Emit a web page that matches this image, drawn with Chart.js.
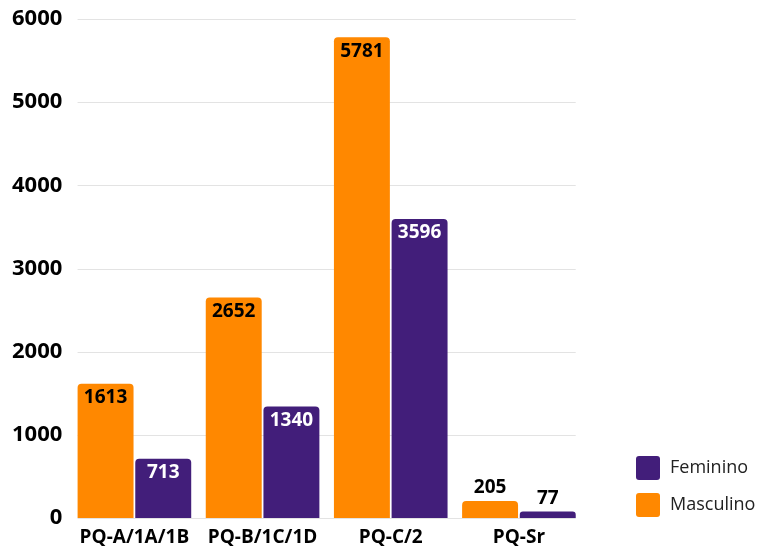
<!DOCTYPE html>
<html>
<head>
<meta charset="utf-8">
<script src="https://cdn.jsdelivr.net/npm/chart.js@4/dist/chart.umd.min.js"></script>
<style>
  html, body { margin: 0; padding: 0; background: #fff; }
  #wrap { width: 761px; height: 546px; }
</style>
</head>
<body>
<div id="wrap"><canvas id="my-chart"></canvas></div>
<script>
'use strict';

// >>> chart data <<<
const categories = ['PQ-A/1A/1B', 'PQ-B/1C/1D', 'PQ-C/2', 'PQ-Sr'];
const masculino = [1613, 2652, 5781, 205];
const feminino = [713, 1340, 3596, 77];
const yTicks = [0, 1000, 2000, 3000, 4000, 5000, 6000];

const ORANGE = '#FF8800';
const PURPLE = '#421E7A';
const FONT = "'Open Sans', sans-serif";

// grid lines only under the bars (from first bar to last bar)
const gridPlugin = {
  id: 'gridUnderBars',
  beforeDatasetsDraw(chart) {
    const ctx = chart.ctx;
    const yScale = chart.scales.y;
    const first = chart.getDatasetMeta(0).data[0];
    const last = chart.getDatasetMeta(1).data[categories.length - 1];
    const left = first.x - first.width / 2;
    const right = last.x + last.width / 2;
    ctx.save();
    ctx.strokeStyle = '#e3e3e3';
    ctx.lineWidth = 1;
    yTicks.forEach(function (t) {
      const y = Math.round(yScale.getPixelForValue(t)) + 0.5;
      ctx.beginPath();
      ctx.moveTo(left, y);
      ctx.lineTo(right, y);
      ctx.stroke();
    });
    ctx.restore();
  }
};

// value labels: inside the top of the bar, above it when the bar is short
const labelPlugin = {
  id: 'barLabels',
  afterDatasetsDraw(chart) {
    const ctx = chart.ctx;
    ctx.save();
    ctx.font = 'bold 19px ' + FONT;
    ctx.textAlign = 'center';
    ctx.textBaseline = 'middle';
    chart.data.datasets.forEach(function (ds, di) {
      const meta = chart.getDatasetMeta(di);
      meta.data.forEach(function (bar, i) {
        const h = bar.base - bar.y;
        let y;
        if (h > 40) {
          y = bar.y + 14;
          ctx.fillStyle = di === 0 ? '#000' : '#fff';
        } else {
          y = bar.y - 13;
          ctx.fillStyle = '#000';
        }
        ctx.fillText(String(ds.data[i]), bar.x, y);
      });
    });
    ctx.restore();
  }
};

// legend at the bottom right: Feminino first, then Masculino
const legendPlugin = {
  id: 'sideLegend',
  afterDraw(chart) {
    const ctx = chart.ctx;
    const items = chart.data.datasets.slice().reverse();
    const x = 636;
    let y = 456;
    ctx.save();
    ctx.font = '18px ' + FONT;
    ctx.textAlign = 'left';
    ctx.textBaseline = 'middle';
    items.forEach(function (ds) {
      ctx.fillStyle = ds.backgroundColor;
      ctx.beginPath();
      ctx.roundRect(x, y, 24, 24, 3);
      ctx.fill();
      ctx.fillStyle = '#222';
      ctx.fillText(ds.label, x + 34, y + 12);
      y += 37;
    });
    ctx.restore();
  }
};

let canvasElement = document.getElementById('my-chart').getContext('2d');

let myChart = new Chart(canvasElement, {
  type: 'bar',
  data: {
    labels: categories,
    datasets: [{
      label: 'Masculino',
      data: masculino,
      backgroundColor: ORANGE,
      borderRadius: { topLeft: 4, topRight: 4 },
      borderSkipped: 'start',
      categoryPercentage: 0.9,
      barPercentage: 0.97
    },
    {
      label: 'Feminino',
      data: feminino,
      backgroundColor: PURPLE,
      borderRadius: { topLeft: 4, topRight: 4 },
      borderSkipped: 'start',
      categoryPercentage: 0.9,
      barPercentage: 0.97
    }]
  },
  options: {
    responsive: true,
    maintainAspectRatio: false,
    animation: false,
    layout: {
      padding: { top: 2, right: 178, bottom: -11, left: 4 }
    },
    scales: {
      x: {
        grid: { display: false, drawTicks: false },
        border: { display: false },
        ticks: {
          color: '#000',
          padding: 10,
          font: { family: FONT, size: 19, weight: 'bold', lineHeight: 1 }
        }
      },
      y: {
        min: 0,
        max: 6000,
        afterBuildTicks(axis) {
          axis.ticks = yTicks.map(function (v) { return { value: v }; });
        },
        grid: { display: false, drawTicks: false },
        border: { display: false },
        ticks: {
          color: '#000',
          padding: 8,
          callback: function (v) { return String(v); },
          font: { family: FONT, size: 22, weight: 'bold', lineHeight: 1 }
        }
      }
    },
    plugins: {
      legend: { display: false },
      tooltip: { enabled: false }
    }
  },
  plugins: [gridPlugin, labelPlugin, legendPlugin]
});
</script>
</body>
</html>
